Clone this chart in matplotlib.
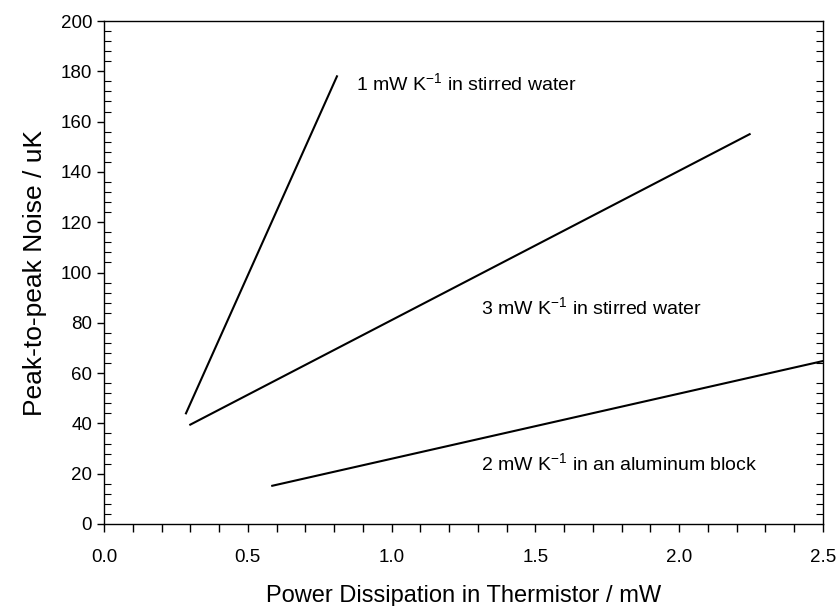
import matplotlib

matplotlib.use("Agg")
import matplotlib.pyplot as plt
from matplotlib.ticker import FormatStrFormatter, MultipleLocator

plt.rcParams["font.family"] = ["Liberation Sans", "DejaVu Sans"]
plt.rcParams["mathtext.fontset"] = "custom"
plt.rcParams["mathtext.rm"] = "Liberation Sans"

# power dissipation (mW) vs peak-to-peak noise (uK), end points of each fit
water_1mw_x = [0.285, 0.81]
water_1mw_y = [44, 178]
water_3mw_x = [0.30, 2.245]
water_3mw_y = [39.5, 155]
block_2mw_x = [0.585, 2.5]
block_2mw_y = [15.2, 64.8]

labels = [
    (0.875, 175, r"1 mW K$^{\mathregular{-1}}$ in stirred water"),
    (1.31, 86, r"3 mW K$^{\mathregular{-1}}$ in stirred water"),
    (1.31, 24, r"2 mW K$^{\mathregular{-1}}$ in an aluminum block"),
]

fig = plt.figure(figsize=(8.4, 6.06), dpi=100)
ax = fig.add_axes([104 / 840, 1 - 524 / 606, 719 / 840, 503 / 606])

for xs, ys in [(water_1mw_x, water_1mw_y), (water_3mw_x, water_3mw_y), (block_2mw_x, block_2mw_y)]:
    ax.plot(xs, ys, color="black", linewidth=1.5)

for x, y, text in labels:
    ax.text(x, y, text, fontsize=14, ha="left", va="center")

ax.set_xlim(0, 2.5)
ax.set_ylim(0, 200)
ax.xaxis.set_major_locator(MultipleLocator(0.5))
ax.xaxis.set_minor_locator(MultipleLocator(0.1))
ax.yaxis.set_major_locator(MultipleLocator(20))
ax.yaxis.set_minor_locator(MultipleLocator(4))
ax.xaxis.set_major_formatter(FormatStrFormatter("%.1f"))

ax.tick_params(axis="x", which="both", direction="out", length=6, width=1, labelsize=13.5, pad=12)
ax.tick_params(axis="y", which="major", direction="out", length=5, width=1, labelsize=13.5)
ax.tick_params(axis="y", which="minor", direction="in", length=5, width=0.8, right=True)

for spine in ax.spines.values():
    spine.set_linewidth(1.0)

ax.set_xlabel("Power Dissipation in Thermistor / mW", fontsize=17, labelpad=14)
ax.set_ylabel("Peak-to-peak Noise / uK", fontsize=19, labelpad=10)

fig.savefig("out.png", dpi=100)
